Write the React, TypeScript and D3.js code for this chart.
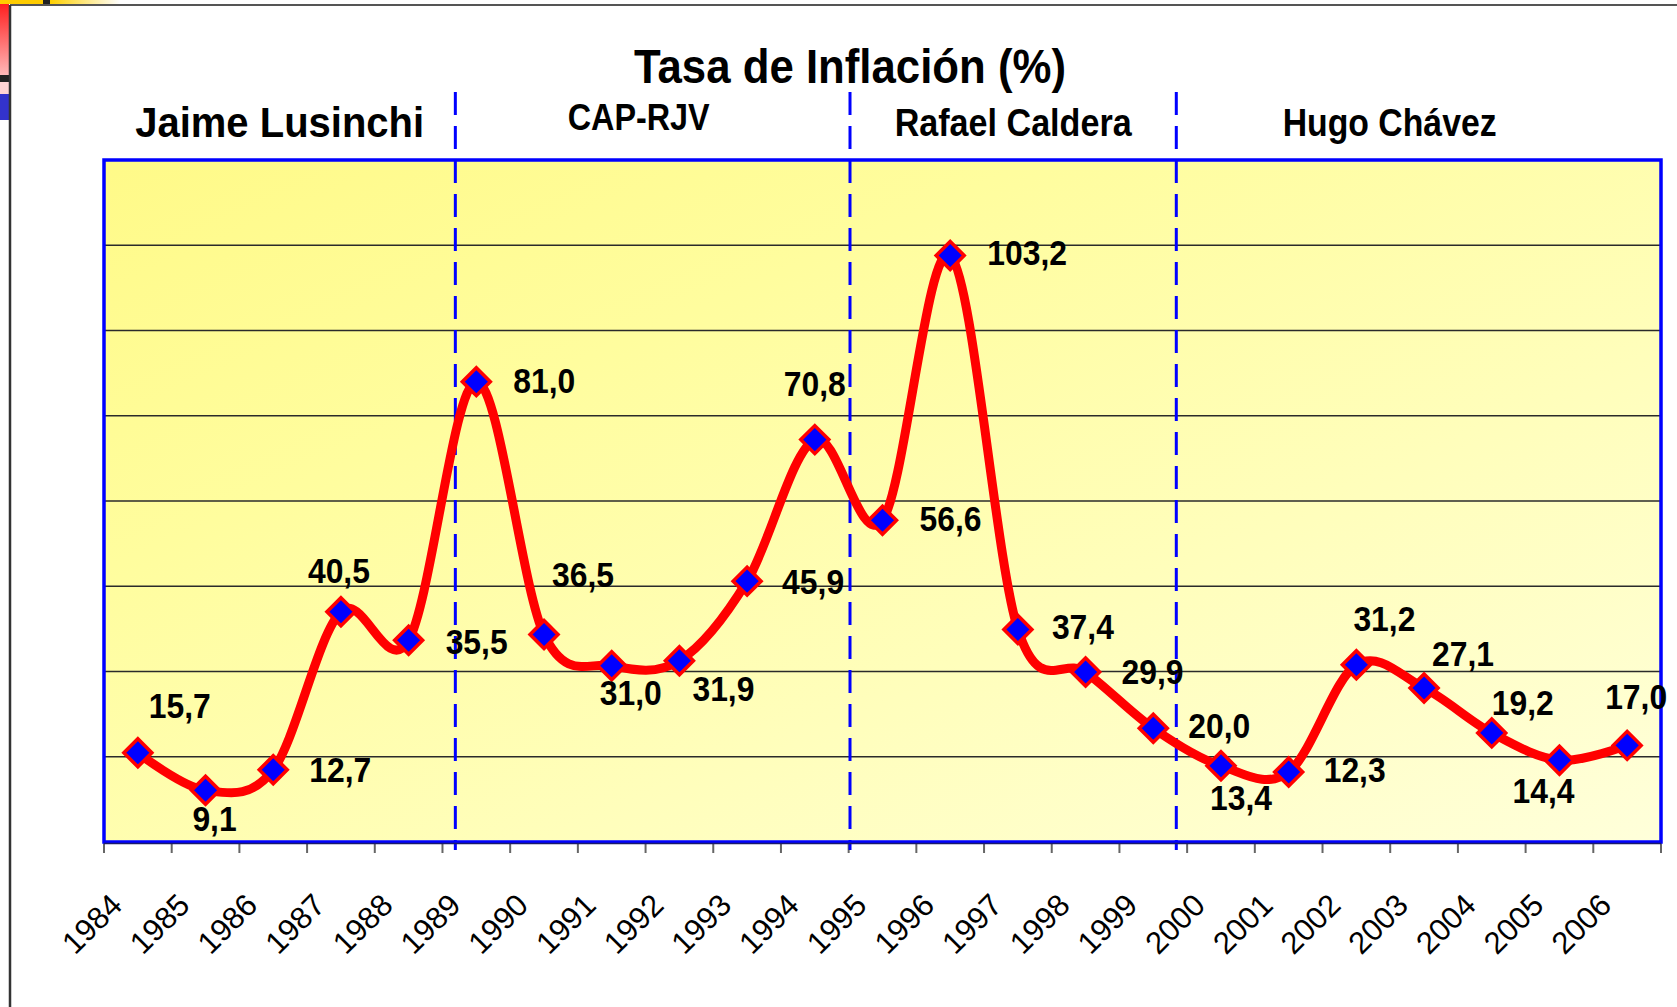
import React from 'react';
import * as d3 from 'd3';

// datos: tasa de inflación anual (%)
const years = ['1984', '1985', '1986', '1987', '1988', '1989', '1990', '1991', '1992', '1993', '1994', '1995',
  '1996', '1997', '1998', '1999', '2000', '2001', '2002', '2003', '2004', '2005', '2006'];
const inflation = [15.7, 9.1, 12.7, 40.5, 35.5, 81.0, 36.5, 31.0, 31.9, 45.9, 70.8, 56.6,
  103.2, 37.4, 29.9, 20.0, 13.4, 12.3, 31.2, 27.1, 19.2, 14.4, 17.0];
const yTicks = [15, 30, 45, 60, 75, 90, 105];
const terms = ['Jaime Lusinchi', 'CAP-RJV', 'Rafael Caldera', 'Hugo Chávez'];
const termBreaks = [1988.69, 1994.52, 1999.34];
const title = 'Tasa de Inflación (%)';

// where each value label sits relative to its marker (dx, dy)
const labelOffsets = [
  [42, -35], [9, 41], [67, 12], [-2, -29], [68, 14], [68, 11], [39, -48], [19, 39],
  [44, 40], [66, 13], [0, -44], [68, 11], [77, 10], [65, 10], [67, 12], [66, 10],
  [20, 44], [66, 10], [28, -34], [39, -22], [31, -18], [-16, 43], [9, -36],
];
// term label layout: font size, text length, baseline, dx from centre
const termStyle = [
  { size: 42, len: 289, base: 137, dx: 0 },
  { size: 36, len: 142, base: 130, dx: -14 },
  { size: 38, len: 237, base: 136, dx: 0 },
  { size: 38, len: 214, base: 136, dx: -29 },
];

const W = 1677, H = 1007;
const left = 104, right = 1661, top = 160, bottom = 842;
const FONT = '"Liberation Sans", Arial, sans-serif';

const fmt = d3.formatLocale({ decimal: ',', thousands: '.', grouping: [3], currency: ['', ''] }).format('.1f');

export default function App() {
  const x = d3.scaleBand<string>().domain(years).range([left, right]).padding(0);
  const xNum = d3.scaleLinear().domain([+years[0] - 0.5, +years[years.length - 1] + 0.5]).range([left, right]);
  const y = d3.scaleLinear().domain([0, 120]).range([bottom, top]);
  const cx = (i: number) => (x(years[i]) as number) + x.bandwidth() / 2;

  const line = d3.line<number>()
    .x((d, i) => cx(i))
    .y(d => y(d))
    .curve(d3.curveCardinal.tension(0));

  const bounds = [...years.map(yr => x(yr) as number), right];
  const edges = [left, ...termBreaks.map(b => xNum(b)), right];

  return (
    <div style={{ position: 'absolute', left: 0, top: 0 }}>
      <svg width={W} height={H} style={{ display: 'block' }} fontFamily={FONT}>
        <defs>
          <linearGradient id="plotBg" x1="0" y1="0" x2="1" y2="1">
            <stop offset="0" stopColor="#FFFA88" />
            <stop offset="0.3" stopColor="#FFFD9E" />
            <stop offset="1" stopColor="#FFFFDA" />
          </linearGradient>
          <linearGradient id="redBar" x1="0" y1="0" x2="0" y2="1">
            <stop offset="0" stopColor="#FF2020" />
            <stop offset="1" stopColor="#FFB8B8" />
          </linearGradient>
          <linearGradient id="topBar" x1="0" y1="0" x2="1" y2="0">
            <stop offset="0" stopColor="#FFD000" />
            <stop offset="1" stopColor="#FFFFFF" />
          </linearGradient>
        </defs>

        <rect width={W} height={H} fill="#fff" />
        {/* slide template bits */}
        <rect x={0} y={0} width={43} height={4} fill="#FFCC00" />
        <rect x={43} y={0} width={7} height={4} fill="#222" />
        <rect x={50} y={0} width={70} height={4} fill="url(#topBar)" />
        <rect x={0} y={4} width={9} height={71} fill="url(#redBar)" />
        <rect x={0} y={75} width={9} height={7} fill="#222" />
        <rect x={0} y={82} width={9} height={12} fill="#FFD4D4" />
        <rect x={0} y={94} width={9} height={26} fill="#3333CC" />
        <line x1={10} y1={5} x2={W} y2={5} stroke="#555" strokeWidth={2} />
        <line x1={10} y1={5} x2={10} y2={H} stroke="#333" strokeWidth={2.5} />

        <text x={850} y={83} textAnchor="middle" fontSize={49} fontWeight="bold"
          textLength={432} lengthAdjust="spacingAndGlyphs">{title}</text>

        {terms.map((t, i) => (
          <text key={t} x={(edges[i] + edges[i + 1]) / 2 + termStyle[i].dx} y={termStyle[i].base}
            textAnchor="middle" fontSize={termStyle[i].size} fontWeight="bold"
            textLength={termStyle[i].len} lengthAdjust="spacingAndGlyphs">{t}</text>
        ))}

        <rect x={left} y={top} width={right - left} height={bottom - top} fill="url(#plotBg)" />

        {yTicks.map(t => (
          <line key={t} x1={left} x2={right} y1={y(t)} y2={y(t)} stroke="#2a2a2a" strokeWidth={1.5} />
        ))}

        {bounds.map((b, i) => (
          <line key={i} x1={b} x2={b} y1={bottom} y2={bottom + 11} stroke="#666" strokeWidth={2} />
        ))}

        {termBreaks.map(b => (
          <line key={b} x1={xNum(b)} x2={xNum(b)} y1={92} y2={850} stroke="#0000FF" strokeWidth={3}
            strokeDasharray="23 11" />
        ))}

        <rect x={left} y={top} width={right - left} height={bottom - top} fill="none" stroke="#0000FF" strokeWidth={3.5} />
        <line x1={left} x2={right} y1={bottom + 1.5} y2={bottom + 1.5} stroke="#1a1a6a" strokeWidth={1.5} />

        <path d={line(inflation) || ''} fill="none" stroke="#FF0000" strokeWidth={9} strokeLinejoin="round" />

        {inflation.map((v, i) => (
          <path key={i} transform={`translate(${cx(i)},${y(v)})`} d="M0,-14L14,0L0,14L-14,0Z"
            fill="#0000FF" stroke="#FF0000" strokeWidth={3.5} />
        ))}

        {inflation.map((v, i) => (
          <text key={i} transform={`translate(${cx(i) + labelOffsets[i][0]},${y(v) + labelOffsets[i][1]}) scale(0.91,1)`}
            textAnchor="middle" fontSize={35} fontWeight="bold" fill="#000">{fmt(v)}</text>
        ))}

        {years.map((yr, i) => (
          <text key={yr} transform={`translate(${cx(i) - 14},907) rotate(-45)`} textAnchor="end"
            fontSize={31} fill="#000">{yr}</text>
        ))}
      </svg>
    </div>
  );
}
